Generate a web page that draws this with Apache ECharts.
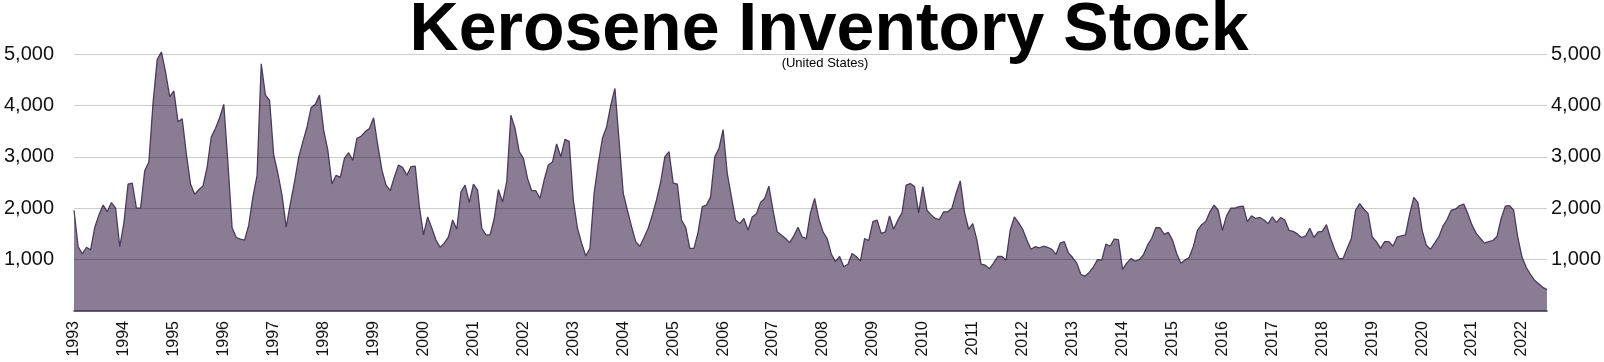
<!DOCTYPE html>
<html>
<head>
<meta charset="utf-8">
<script src="https://cdn.jsdelivr.net/npm/echarts@6/dist/echarts.min.js"></script>
<style>
html,body{margin:0;padding:0;background:#fff;}
#chart{width:1604px;height:362px;}
</style>
</head>
<body>
<div id="chart"></div>
<script>
// Year tick labels (January of each year)
const years = [1993,1994,1995,1996,1997,1998,1999,2000,2001,2002,2003,2004,2005,2006,2007,
  2008,2009,2010,2011,2012,2013,2014,2015,2016,2017,2018,2019,2020,2021,2022];

// Monthly kerosene inventory stock (thousand barrels), Jan 1993 – Jul 2022
const stock1990s = [
  1960,1250,1110,1240,1190,1630,1870,2060,1930,2110,2000,1250,
  1720,2470,2490,2000,2000,2730,2900,4050,4890,5040,4650,4170,
  4280,3680,3740,3060,2470,2270,2360,2430,2800,3390,3550,3760,
  4020,2870,1620,1430,1400,1380,1670,2220,2640,4810,4200,4100,
  3030,2680,2250,1630,2090,2510,2990,3290,3580,3960,4020,4200,
  3520,3130,2470,2640,2600,2970,3080,2930,3360,3400,3490,3550,
  3760,3230,2740,2450,2340,2610,2840,2790,2640,2810,2820,2030
];
const stock2000s = [
  1480,1830,1610,1380,1240,1320,1440,1770,1590,2320,2450,2110,
  2470,2350,1610,1480,1480,1800,2360,2120,2510,3810,3550,3100,
  2970,2580,2340,2340,2190,2550,2840,2900,3250,3000,3340,3300,
  2160,1610,1320,1070,1220,2290,2870,3360,3580,4000,4330,3320,
  2290,1960,1640,1350,1260,1430,1610,1870,2160,2510,3000,3100,
  2490,2470,1770,1630,1220,1220,1540,2030,2060,2220,3000,3160,
  3530,2680,2220,1770,1700,1800,1570,1830,1890,2110,2190,2430,
  1960,1540,1480,1410,1330,1460,1630,1440,1410,1910,2190,1800,
  1540,1410,1110,960,1060,860,910,1120,1060,970,1410,1370,
  1740,1770,1510,1540,1850,1590,1770,1910,2450,2480,2420,1910
];
const stock2010s = [
  2420,1960,1870,1800,1780,1930,1930,2000,2290,2530,1930,1590,
  1700,1380,910,890,820,930,1060,1060,990,1570,1830,1720,
  1590,1380,1200,1250,1230,1260,1240,1200,1100,1320,1350,1130,
  1040,930,710,680,750,860,1000,990,1300,1260,1400,1390,
  810,930,1020,970,1000,1090,1280,1410,1620,1620,1490,1530,
  1380,1120,930,990,1040,1250,1570,1680,1740,1930,2060,1960,
  1570,1850,2000,2000,2030,2040,1740,1850,1800,1820,1770,1700,
  1830,1720,1820,1770,1570,1550,1500,1430,1460,1610,1430,1540,
  1550,1680,1410,1190,1020,1020,1220,1410,1960,2090,1980,1900,
  1440,1350,1220,1350,1350,1260,1440,1460,1480,1880,2210,2110
];
const stock2020s = [
  1570,1280,1200,1320,1440,1650,1780,1960,1980,2050,2080,1890,
  1670,1510,1410,1320,1350,1370,1450,1800,2040,2050,1960,1430,
  1050,850,720,600,530,460,415
];
const yTicks = [1000,2000,3000,4000,5000];

const values = stock1990s.concat(stock2000s, stock2010s, stock2020s);
const categories = values.map((v, i) => years[Math.floor(i / 12)] + '-' + String(i % 12 + 1).padStart(2, '0'));

const FONT = '"Liberation Sans", Arial, Helvetica, sans-serif';
const fmt = v => yTicks.indexOf(v) >= 0 ? v.toLocaleString('en-US') : '';

const chart = echarts.init(document.getElementById('chart'), null, {renderer: 'canvas'});
chart.setOption({
  animation: false,
  backgroundColor: '#ffffff',
  title: [
    {
      text: 'Kerosene Inventory Stock',
      left: 829, top: -3, padding: 0, textAlign: 'center',
      textStyle: {fontFamily: FONT, fontSize: 68, fontWeight: 'bold', color: '#000'}
    },
    {
      text: '(United States)',
      left: 825, top: 57, padding: 0, textAlign: 'center',
      textStyle: {fontFamily: FONT, fontSize: 13, fontWeight: 'normal', color: '#000'}
    }
  ],
  grid: {left: 74, right: 56, top: 54, bottom: 51, containLabel: false},
  xAxis: {
    type: 'category',
    data: categories,
    boundaryGap: false,
    z: 5,
    axisLine: {show: true, lineStyle: {color: '#3b2d48', width: 1.5}},
    axisTick: {show: false},
    splitLine: {show: false},
    axisLabel: {
      interval: (i) => i % 12 === 0,
      rotate: 90,
      margin: 10,
      fontFamily: FONT, fontSize: 16, color: '#111',
      formatter: (v) => v.slice(0, 4)
    }
  },
  yAxis: [
    {
      type: 'value', position: 'left', min: 0, max: 5000, interval: 1000,
      axisLine: {show: false}, axisTick: {show: false},
      splitLine: {show: false},
      axisLabel: {showMinLabel: false, margin: 20, fontFamily: FONT, fontSize: 20, color: '#111', formatter: fmt}
    },
    {
      type: 'value', position: 'right', min: 0, max: 5000, interval: 1000, z: 4,
      axisLine: {show: false}, axisTick: {show: false},
      splitLine: {show: true, showMinLine: false, lineStyle: {color: 'rgba(0,0,0,0.2)', width: 1}},
      axisLabel: {showMinLabel: false, margin: 4, fontFamily: FONT, fontSize: 20, color: '#111', formatter: fmt}
    }
  ],
  series: [{
    type: 'line',
    data: values,
    yAxisIndex: 0,
    symbol: 'none',
    clip: false,
    smooth: false,
    lineStyle: {color: '#4b3b5e', width: 1.3},
    areaStyle: {color: '#8a7c92', opacity: 1},
    z: 2
  }]
});
</script>
</body>
</html>
